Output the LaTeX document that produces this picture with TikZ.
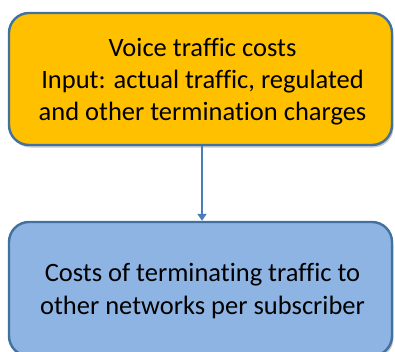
\documentclass[tikz,border=0pt]{standalone}
\usepackage{fontspec}
\setmainfont{Carlito}[Ligatures=NoCommon]
\usetikzlibrary{arrows.meta,shadows}
\definecolor{boxline}{HTML}{41719C}
\definecolor{amber}{HTML}{FFC000}
\definecolor{skyfill}{HTML}{8EB4E3}
\definecolor{arrowblue}{HTML}{4A7EBB}
\tikzset{
  flowbox/.style={draw=boxline, line width=2.4pt, rounded corners=20pt,
    minimum width=383pt, inner sep=0pt,
    drop shadow={shadow xshift=1.5pt, shadow yshift=-2.5pt, opacity=0.35, fill=black!60}},
  boxtext/.style={align=center, inner sep=0pt, font=\fontsize{26.5}{32}\selectfont},
  flowarrow/.style={draw=arrowblue, line width=2pt, -{Triangle[width=9pt,length=7pt]}}
}
\begin{document}
\begin{tikzpicture}[x=1pt,y=1pt]
  \useasboundingbox (0,0) rectangle (395,351);
  \begin{scope}
    \clip (0,0) rectangle (395,351);
    \node[flowbox, fill=amber, minimum height=132pt] (voice) at (200.5,272) {};
    \node[boxtext] (voiceText) at ([xshift=2pt,yshift=-3pt]voice.center)
      {Voice traffic costs\\Input: actual traffic, regulated\\and other termination charges};
    \node[flowbox, fill=skyfill, minimum height=134pt] (perSub) at (200.5,62) {};
    \node[boxtext, font=\fontsize{26.5}{33}\selectfont] (perSubText)
      at ([xshift=2pt,yshift=-2pt]perSub.center)
      {Costs of terminating traffic to\\other networks per subscriber};
    \draw[flowarrow] (voice.south -| 202,0) -- (perSub.north -| 202,0);
  \end{scope}
\end{tikzpicture}
\end{document}
